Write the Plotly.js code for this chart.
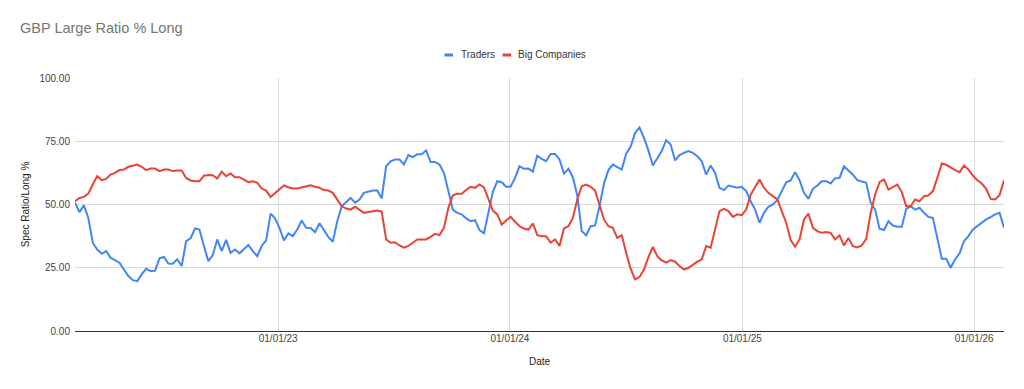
<!DOCTYPE html>
<html>
<head>
<meta charset="utf-8">
<script src="https://cdn.plot.ly/plotly-3.0.1.min.js"></script>
<style>html,body{margin:0;padding:0;background:#fff;}#chart{width:1024px;height:389px;}</style>
</head>
<body>
<div id="chart"></div>
<script>
// Weekly observations (Tuesdays), first week and count
const startDate = "2022-02-15";
const weeks = 210;

const traders = [
50.7,47,49.7,44.7,34.9,32.2,30.5,31.6,29,28,
27,24.3,21.7,20.1,19.7,22.4,24.6,23.7,23.8,28.7,
29.3,26.7,26.6,28.3,25.7,35.5,36.6,40.5,40.1,33.6,
27.6,30,36.2,31.6,36,30.9,32.2,30.7,32.2,34,
31.6,29.6,33.6,35.8,46.4,44.5,40.8,35.8,38.6,37.5,
40.1,43.7,40.8,40.7,39.1,42.6,39.9,37.1,35.3,43.4,
49.3,50.9,52.6,50.7,52,54.6,55,55.5,55.5,52.4,
65.1,67.1,67.8,67.8,65.8,69.5,68.7,69.9,69.9,71.4,
66.8,66.8,65.8,62.5,55.3,48,46.7,46.1,44.5,43.4,
43.8,39.9,38.6,46.7,54.9,59.2,58.8,57,57,60.5,
65.1,64.1,64.2,63,69.3,68,67.1,70,70,67.8,
62.2,64.1,60.8,53.6,39.5,37.8,41.4,41.7,49.3,58.3,
63.6,65.8,64.9,63.8,70.1,72.8,78.3,80.5,76.3,71.4,
65.4,68.4,71.1,75.4,73.7,67.4,69.5,70.4,71.1,70.4,
69.1,67.1,61.8,65.4,62.5,56.6,55.7,57.5,57,56.6,
57,55.3,51.3,48,42.8,46.7,49.1,50,51.7,55.3,
58.8,59.5,62.8,59.6,54.6,52.2,56.2,57.5,59.2,59.2,
58.3,60.4,60.5,65.1,63.5,61.8,59.6,59.2,58.6,50.7,
48,40.4,39.9,43.4,41.7,41.2,41.2,48.3,49.3,48,
48.7,46.7,45.1,44.7,36.2,28.6,28.6,25,28.3,30.7,
35.5,37.5,40.1,41.4,43,44.1,45,46.1,46.7,40.8
];

const bigCompanies = [
51.3,52.6,53,54.3,57.9,61.2,59.6,60.1,61.8,62.5,
63.6,63.8,64.9,65.5,65.8,64.9,63.6,64.2,64.2,63.2,
63.8,63.8,63.2,63.4,63.4,60.5,59.5,59.2,59.2,61.4,
61.7,61.6,60.3,63,61.2,62.3,60.8,60.8,59.9,58.8,
59.2,58.6,56.3,55.5,53,54.6,56.3,57.5,56.8,56.3,
56.3,56.8,57.2,57.6,57,56.6,55.7,55.5,54.6,52,
49.3,48.4,48,49.1,47.8,46.7,47,47.4,47.6,47.2,
36.2,34.9,35.1,33.8,32.9,33.6,34.9,36.2,36.2,36.2,
37.2,38.4,37.9,40.8,48.7,53.6,54.2,54.2,55.7,57,
56.6,57.9,56.8,52,47.6,46.1,42.1,43.7,45.1,43.2,
41.4,40.5,40.1,42.5,37.9,37.5,37.5,34.9,36.2,33.6,
40.5,41.4,44.7,52,57.2,57.9,57,55.5,49.3,44.1,
41.4,40.8,36.8,37.8,30.9,24.6,20.4,21.3,24.3,29.2,
33.2,29.6,27.9,27,28,27.4,25.7,24.3,25,26.3,
27.4,28.3,33.6,32.9,40.8,47.4,48.3,47.4,45.1,46.1,
45.8,48,53.9,57.2,59.9,56.6,54.6,53.3,52,47.4,
42.8,35.9,33.3,36.2,44.1,46.4,40.8,39.5,38.8,39.1,
38.8,36.2,37.8,33.8,36.8,33.5,33,33.8,36.4,46.7,
53.9,58.8,59.9,55.9,56.8,57.9,54.9,49.3,49.3,52,
51.3,53.3,53.6,55.3,60.5,66.2,65.7,64.5,63.6,62.8,
65.4,63.8,61.4,59.6,58.3,56.2,52.2,52,53.7,59.6
];

const seriesNames = ["Traders", "Big Companies"];
const seriesColors = ["#4285F4", "#EA4335"];
const yTickVals = [0, 25, 50, 75, 100];
const xTickVals = ["2023-01-01", "2024-01-01", "2025-01-01", "2026-01-01"];

const dates = [];
{
  const d0 = new Date(startDate + "T00:00:00Z");
  for (let i = 0; i < weeks; i++) {
    const d = new Date(d0.getTime() + i * 7 * 86400000);
    dates.push(d.toISOString().slice(0, 10));
  }
}

const traces = [traders, bigCompanies].map((vals, k) => ({
  x: dates,
  y: vals,
  type: "scatter",
  mode: "lines",
  name: seriesNames[k],
  line: {color: seriesColors[k], width: 2}
}));

// Legend drawn as small swatches + labels, like the original chart's top legend
const legendSwatchX = [0.3977, 0.4602];
const legendTextX = [0.4133, 0.4752];
const legendShapes = seriesNames.map((n, k) => ({
  type: "rect", xref: "paper", yref: "paper",
  x0: legendSwatchX[k], x1: legendSwatchX[k] + 0.0092,
  y0: 1.085, y1: 1.097,
  fillcolor: seriesColors[k], line: {width: 0}
}));
const legendLabels = seriesNames.map((n, k) => ({
  text: n, xref: "paper", yref: "paper",
  x: legendTextX[k], y: 1.091, xanchor: "left", yanchor: "middle",
  showarrow: false, font: {size: 10, color: "#333333"}
}));

const layout = {
  width: 1024,
  height: 389,
  margin: {l: 75, r: 20, t: 78, b: 58, autoexpand: false},
  paper_bgcolor: "#ffffff",
  plot_bgcolor: "#ffffff",
  font: {family: "Arial, 'Liberation Sans', sans-serif", size: 10, color: "#444444"},
  title: {
    text: "GBP Large Ratio % Long",
    x: 20/1024, xref: "container", xanchor: "left",
    y: 1 - 28/389, yref: "container", yanchor: "middle",
    font: {size: 14.5, color: "#757575"}
  },
  showlegend: false,
  shapes: legendShapes,
  annotations: legendLabels,
  xaxis: {
    type: "date",
    range: [dates[0], dates[dates.length - 1]],
    tickvals: xTickVals,
    tickformat: "%m/%d/%y",
    showgrid: true,
    gridcolor: "#d9d9d9",
    gridwidth: 1,
    ticks: "",
    showline: false,
    zeroline: false,
    automargin: false,
    tickfont: {size: 10, color: "#444444"},
    title: {text: "Date", font: {size: 10, color: "#222222"}, standoff: 14}
  },
  yaxis: {
    range: [0, 100],
    tickvals: yTickVals,
    tickformat: ".2f",
    showgrid: true,
    gridcolor: "#d9d9d9",
    gridwidth: 1,
    zeroline: true,
    zerolinecolor: "#333333",
    zerolinewidth: 1,
    ticks: "",
    automargin: false,
    ticklabelstandoff: 4,
    tickfont: {size: 10, color: "#444444"},
    title: {text: "Spec Ratio/Long %", font: {size: 10, color: "#222222"}, standoff: 7}
  }
};

Plotly.newPlot("chart", traces, layout, {displayModeBar: false, staticPlot: true});
</script>
</body>
</html>
